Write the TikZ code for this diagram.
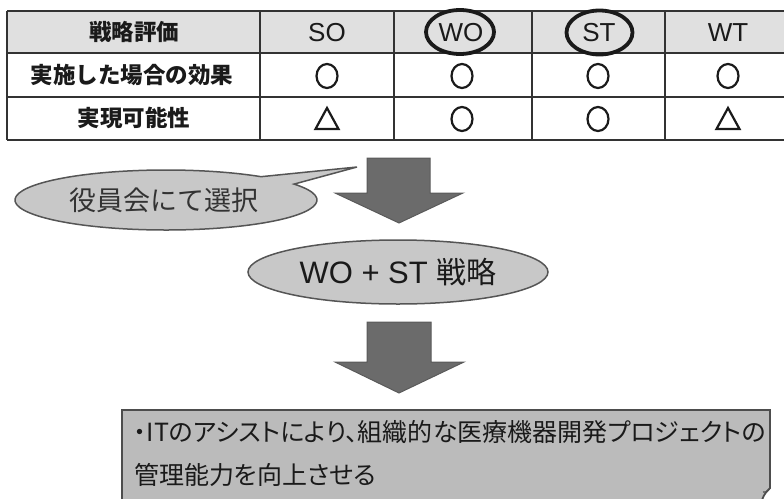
\documentclass[tikz,border=0pt]{standalone}
\usepackage{fontspec}
\setmainfont{Liberation Sans}
\newfontfamily\jp{Noto Sans CJK JP}
\newfontfamily\jpp[RawFeature=+palt]{Noto Sans CJK JP}
\usetikzlibrary{shapes.geometric}
\definecolor{hdrgray}{HTML}{E0E0E0}
\definecolor{rulegray}{HTML}{333333}
\definecolor{bubfill}{HTML}{C8C8C8}
\definecolor{bubdraw}{HTML}{555555}
\definecolor{arrfill}{HTML}{6B6B6B}
\definecolor{arrdraw}{HTML}{5A5A5A}
\definecolor{boxfill}{HTML}{BBBBBB}
\definecolor{boxdraw}{HTML}{4D4D4D}
\definecolor{txtdark}{HTML}{1A1A1A}
\definecolor{txtmid}{HTML}{333333}
\tikzset{
  rule/.style={draw=rulegray, line width=1.5pt},
  hdrtxt/.style={inner sep=0pt, font=\jp\bfseries\fontsize{22.5}{26}\selectfont, text=txtdark},
  coltxt/.style={inner sep=0pt, font=\fontsize{26}{29}\selectfont, text=txtdark},
  okmark/.style={ellipse, draw=txtdark, line width=2.2pt, minimum width=21pt, minimum height=24pt, inner sep=0pt},
  trimark/.style={draw=txtdark, line width=2.2pt, line join=miter},
  ring/.style={draw=txtdark, line width=3.8pt},
  blockarrow/.style={fill=arrfill, draw=arrdraw, line width=1pt, line join=miter},
  bubble/.style={fill=bubfill, draw=bubdraw, line width=1.5pt},
  notebox/.style={fill=boxfill, draw=boxdraw, line width=1.8pt},
  boxtxt/.style={anchor=west, inner sep=0pt, font=\jpp\fontsize{25}{30}\selectfont, text=txtdark}
}
\begin{document}
\begin{tikzpicture}[x=1pt,y=1pt]
\useasboundingbox (0,0) rectangle (784,-498);
\clip (0,0) rectangle (784,-498);
% ---------- table ----------
\fill[hdrgray] (7,-11) rectangle (792,-53);
\foreach \yy in {11,53,97,140} \draw[rule] (7,-\yy) -- (792,-\yy);
\foreach \xx in {7,260,394,532,665} \draw[rule] (\xx,-11) -- (\xx,-140);
\node[hdrtxt] (h0) at (134,-32) {戦略評価};
\node[hdrtxt] (r1) at (132,-75) {実施した場合の効果};
\node[hdrtxt] (r2) at (134,-118) {実現可能性};
\node[coltxt] (so) at (327,-33) {SO};
\node[coltxt] (wo) at (461,-33) {WO};
\node[coltxt] (st) at (599,-33) {ST};
\node[coltxt] (wt) at (728,-33) {WT};
\draw[ring] (460,-32) ellipse [x radius=34, y radius=22];
\draw[ring] (599.5,-32.5) ellipse [x radius=33, y radius=22];
% marks
\node[okmark] (m11) at (327,-76) {};
\node[okmark] (m12) at (462,-76) {};
\node[okmark] (m13) at (598,-76) {};
\node[okmark] (m14) at (728,-76) {};
\node[okmark] (m22) at (462,-119) {};
\node[okmark] (m23) at (598,-119) {};
\draw[trimark] (315.5,-129) -- (327,-108) -- (338.5,-129) -- cycle;
\draw[trimark] (716.5,-129) -- (728,-108) -- (739.5,-129) -- cycle;
% ---------- first arrow ----------
\draw[blockarrow] (367,-158) -- (430,-158) -- (430,-193) -- (463,-193) -- (399,-223) -- (335,-193) -- (367,-193) -- cycle;
% ---------- callout ----------
\coordinate (tip) at (357,-167);
\draw[bubble] (294.05,-184.1) arc[start angle=32, end angle=-309, x radius=151, y radius=30] -- (tip) -- cycle;
\node[inner sep=0pt, font=\jp\fontsize{27}{30}\selectfont, text=txtmid] (cb) at (164,-200) {役員会にて選択};
% ---------- selected strategy ----------
\node[ellipse, fill=bubfill, draw=bubdraw, line width=1.5pt, minimum width=300pt, minimum height=64pt, inner sep=0pt,
      font=\fontsize{31}{34}\selectfont, text=txtdark] (sel) at (398,-272) {WO + ST {\jp\fontsize{30}{34}\selectfont 戦略}};
% ---------- second arrow ----------
\draw[blockarrow] (367,-322) -- (431,-322) -- (431,-362) -- (464,-362) -- (399,-393) -- (335,-362) -- (367,-362) -- cycle;
% ---------- result box ----------
\draw[notebox] (122,-520) -- (122,-410) -- (770,-410) -- (770,-488) .. controls (767,-491) and (764,-494) .. (762,-500) -- (762,-520);
\draw[boxdraw, line width=1.2pt] (770,-488) .. controls (768,-492) and (765,-493) .. (763,-492);
\node[boxtxt] (l1) at (134,-432) {・ITのアシストにより、組織的な医療機器開発プロジェクトの};
\node[boxtxt] (l2) at (134,-475) {管理能力を向上させる};
\end{tikzpicture}
\end{document}
